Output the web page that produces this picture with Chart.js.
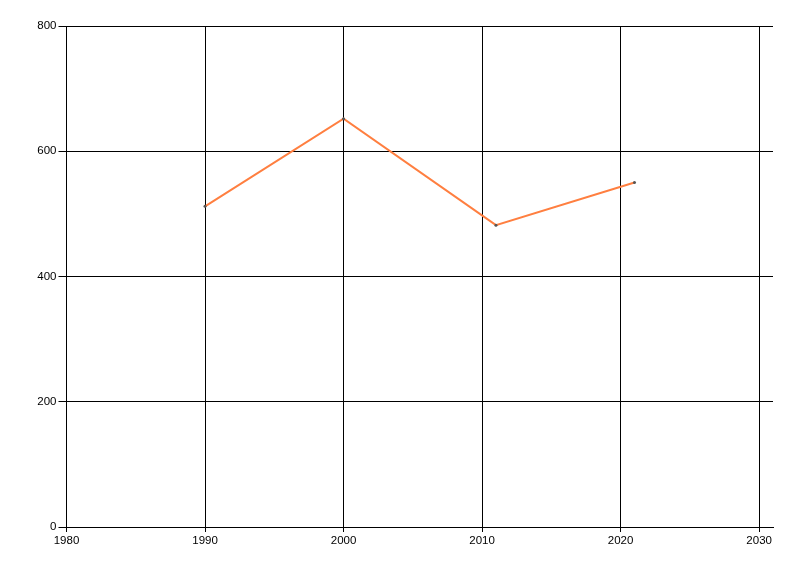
<!DOCTYPE html>
<html>
<head>
<meta charset="utf-8">
<script src="https://cdn.jsdelivr.net/npm/chart.js@4"></script>
<style>
  html, body { margin: 0; padding: 0; background: #fff; }
  #chart { display: block; }
</style>
</head>
<body>
<canvas id="chart" width="800" height="576"></canvas>
<script>
const years = [1990, 2000, 2011, 2021];
const values = [512, 652, 482, 550];
const xTicks = [1980, 1990, 2000, 2010, 2020, 2030];
const yTicks = [0, 200, 400, 600, 800];

const tickFont = { family: "'Liberation Sans', Arial, sans-serif", size: 11.5 };

new Chart(document.getElementById("chart"), {
  type: "line",
  data: {
    datasets: [{
      data: years.map((y, i) => ({ x: y, y: values[i] })),
      borderColor: "#ff7f40",
      borderWidth: 2,
      backgroundColor: "#555555",
      pointRadius: 1.5,
      pointBorderWidth: 0,
      pointBackgroundColor: "#555555",
      tension: 0,
    }],
  },
  options: {
    responsive: false,
    animation: false,
    layout: { padding: { top: 26, right: 27, left: 0, bottom: 0 } },
    plugins: { legend: { display: false }, tooltip: { enabled: false } },
    scales: {
      x: {
        type: "linear",
        min: 1980,
        max: 2031,
        afterBuildTicks: (axis) => { axis.ticks = xTicks.map((v) => ({ value: v })); },
        afterFit: (axis) => { axis.height = 49; },
        ticks: { color: "#000", font: tickFont, padding: 2, maxRotation: 0, callback: (v) => String(v) },
        grid: { color: "#000", lineWidth: 1, tickLength: 5, drawTicks: true },
        border: { color: "#000", width: 1 },
      },
      y: {
        min: 0,
        max: 800,
        afterBuildTicks: (axis) => { axis.ticks = yTicks.map((v) => ({ value: v })); },
        afterFit: (axis) => { axis.width = 66.5; },
        ticks: { color: "#000", font: tickFont, padding: 2 },
        grid: { color: "#000", lineWidth: 1, tickLength: 8, drawTicks: true },
        border: { color: "#000", width: 1 },
      },
    },
  },
});
</script>
</body>
</html>
